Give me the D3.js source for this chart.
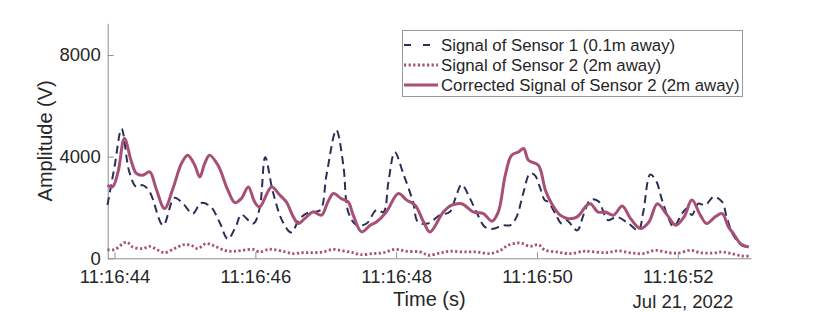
<!DOCTYPE html>
<html>
<head>
<meta charset="utf-8">
<script src="https://cdn.jsdelivr.net/npm/d3@7"></script>
<style>
  html, body { margin: 0; padding: 0; background: #fff; }
  text { font-family: "Liberation Sans", Arial, Helvetica, sans-serif; fill: #262626; }
</style>
</head>
<body>
<svg id="chart" width="830" height="312"></svg>
<script>
// seconds after 11:16:44 (Jul 21, 2022) and amplitude in V
const s1Time = [-0.10, 0.00, 0.10, 0.21, 0.31, 0.40, 0.50, 0.69, 0.85, 0.97, 1.11, 1.23, 1.37, 1.49, 1.61, 1.73, 1.80, 1.97, 2.06, 2.14,
  2.25, 2.39, 2.51, 2.63, 2.77, 2.92, 3.01, 3.15, 3.25, 3.32, 3.44, 3.58, 3.72, 3.82, 3.89, 3.98, 4.10, 4.24, 4.31, 4.45,
  4.62, 4.76, 4.84, 4.93, 5.05, 5.14, 5.26, 5.38, 5.52, 5.62, 5.71, 5.81, 5.90, 5.97, 6.04, 6.11, 6.16, 6.26, 6.35, 6.42,
  6.57, 6.66, 6.76, 6.87, 7.01, 7.13, 7.30, 7.44, 7.51, 7.61, 7.70, 7.77, 7.87, 7.94, 8.06, 8.13, 8.20, 8.29, 8.39, 8.51,
  8.63, 8.70, 8.79, 8.91, 9.01];
const s1Val = [2100, 3600, 5100, 3400, 2810, 2880, 2610, 1300, 2380, 2160, 1760, 2180, 2020, 1430, 760, 1300, 1720, 1370, 1960, 3980,
  2610, 1430, 1020, 1560, 1820, 1890, 3270, 5050, 3660, 1820, 1300, 1370, 1900, 1820, 3000, 4180, 3340, 2220, 1430, 1370,
  1700, 1820, 2350, 2900, 2350, 1820, 1235, 1160, 1300, 1300, 1630, 2610, 3340, 3270, 2810, 2290, 2220, 1760, 1370, 1500,
  1100, 1700, 2300, 2250, 1500, 1630, 1370, 1100, 1820, 3300, 3000, 2350, 1560, 1235, 1760, 1960, 1700, 2150, 2090, 2420,
  2220, 1560, 905, 510, 445];

const s2Time = [-0.10, 0.00, 0.17, 0.26, 0.40, 0.50, 0.62, 0.71, 0.85, 0.99, 1.09, 1.18, 1.30, 1.42, 1.56, 1.68, 1.82, 1.97, 2.06, 2.18,
  2.25, 2.39, 2.53, 2.67, 2.81, 2.96, 3.10, 3.25, 3.39, 3.49, 3.67, 3.82, 3.98, 4.15, 4.34, 4.43, 4.48, 4.62, 4.76, 4.95,
  5.14, 5.33, 5.48, 5.59, 5.76, 5.90, 6.02, 6.11, 6.28, 6.47, 6.66, 6.73, 6.97, 7.16, 7.35, 7.51, 7.68, 7.87, 8.01, 8.18,
  8.32, 8.49, 8.63, 8.77, 8.91, 9.01];
const s2Val = [340, 340, 640, 445, 380, 470, 315, 220, 380, 540, 510, 380, 580, 485, 315, 275, 315, 350, 250, 350,
  350, 275, 185, 220, 220, 250, 350, 290, 220, 145, 185, 220, 350, 275, 250, 145, 120, 205, 275, 250,
  250, 185, 315, 510, 605, 470, 540, 330, 250, 185, 275, 275, 220, 290, 205, 185, 315, 220, 205, 315,
  220, 205, 250, 185, 90, 90];

const corrTime = [-0.10, -0.03, 0.05, 0.14, 0.24, 0.31, 0.40, 0.50, 0.59, 0.71, 0.83, 0.95, 1.04, 1.14, 1.21, 1.28, 1.35, 1.47, 1.61, 1.71,
  1.80, 1.90, 1.99, 2.06, 2.23, 2.35, 2.44, 2.54, 2.61, 2.70, 2.82, 2.94, 3.03, 3.11, 3.22, 3.32, 3.39, 3.51, 3.63, 3.72,
  3.86, 4.03, 4.15, 4.27, 4.39, 4.48, 4.67, 4.79, 4.93, 5.10, 5.24, 5.36, 5.45, 5.55, 5.64, 5.74, 5.81, 5.88, 6.02, 6.12,
  6.21, 6.33, 6.45, 6.57, 6.71, 6.76, 6.87, 6.97, 7.09, 7.21, 7.33, 7.47, 7.59, 7.71, 7.85, 7.97, 8.09, 8.20, 8.32, 8.41,
  8.53, 8.63, 8.72, 8.79, 8.89, 9.01];
const corrVal = [2880, 2810, 3400, 4720, 3800, 3340, 3270, 3400, 2750, 1960, 2750, 3730, 4060, 3660, 3200, 3730, 4060, 3660, 2680, 2190,
  2350, 2810, 2220, 2020, 2810, 2480, 2220, 1630, 1370, 1560, 1820, 1700, 2220, 2550, 2350, 2220, 1700, 1040, 1300, 1430,
  1820, 2550, 2290, 2090, 1430, 1040, 1820, 2090, 2150, 1820, 1760, 1460, 1820, 3270, 4060, 4190, 4320, 3860, 3660, 2680,
  2150, 1700, 1560, 1630, 2090, 2150, 1820, 1820, 1700, 2060, 1560, 1170, 1430, 2150, 1700, 1300, 1630, 2290, 1700, 1370,
  1630, 1760, 1235, 975, 580, 445];

const xTickSec = [0, 2, 4, 6, 8];
const yTicks = [0, 4000, 8000];
const legendLabels = ['Signal of Sensor 1 (0.1m away)', 'Signal of Sensor 2 (2m away)', 'Corrected Signal of Sensor 2 (2m away)'];

const base = new Date(2022, 6, 21, 11, 16, 44);
const toDate = s => new Date(base.getTime() + s * 1000);

const svg = d3.select('#chart');
const plotLeft = 107.7, plotRight = 751, plotTop = 23.3, plotBottom = 258.3;

const x = d3.scaleTime()
  .domain([toDate(-0.097), toDate(9.04)])
  .range([plotLeft, plotRight]);
const y = d3.scaleLinear()
  .domain([0, 9250])
  .range([plotBottom, plotTop]);

const axisColor = '#8f8f8f';

// x axis, ticks pointing inward
const xAxis = svg.append('g')
  .attr('transform', `translate(0,${plotBottom})`)
  .call(d3.axisBottom(x)
    .tickValues(xTickSec.map(toDate))
    .tickFormat(d3.timeFormat('%H:%M:%S'))
    .tickSizeInner(-6).tickSizeOuter(0).tickPadding(11.5));
xAxis.select('.domain').attr('stroke', axisColor).attr('stroke-width', 1);
xAxis.selectAll('.tick line').attr('stroke', axisColor);
xAxis.selectAll('.tick text').attr('font-size', 18.5).attr('fill', '#262626');

const yAxis = svg.append('g')
  .attr('transform', `translate(${plotLeft},0)`)
  .call(d3.axisLeft(y)
    .tickValues(yTicks)
    .tickFormat(d3.format('d'))
    .tickSizeInner(-6).tickSizeOuter(0).tickPadding(7));
yAxis.select('.domain').attr('stroke', axisColor).attr('stroke-width', 1);
yAxis.selectAll('.tick line').attr('stroke', axisColor);
yAxis.selectAll('.tick text').attr('font-size', 18.5).attr('fill', '#262626');

svg.append('text')
  .attr('x', 683).attr('y', 308)
  .attr('text-anchor', 'middle')
  .attr('font-size', 18.5)
  .text('Jul 21, 2022');

svg.append('text')
  .attr('x', (plotLeft + plotRight) / 2).attr('y', 306)
  .attr('text-anchor', 'middle')
  .attr('font-size', 20)
  .text('Time (s)');

svg.append('text')
  .attr('transform', `translate(52,${(plotTop + plotBottom) / 2}) rotate(-90)`)
  .attr('text-anchor', 'middle')
  .attr('font-size', 20)
  .text('Amplitude (V)');

// series
const series = [
  { t: s1Time, v: s1Val, color: '#2d2e58', width: 2, dash: '8,5', legDash: '7,12' },
  { t: s2Time, v: s2Val, color: '#a84f75', width: 2.8, dash: '2.2,2.4', legDash: '2.2,2.4' },
  { t: corrTime, v: corrVal, color: '#a84f75', width: 3, dash: null, legDash: null }
];

const line = d3.line()
  .x(d => x(d[0]))
  .y(d => y(d[1]))
  .curve(d3.curveCatmullRom.alpha(0.5));

const plot = svg.append('g');
series.forEach(s => {
  const pts = s.t.map((t, i) => [toDate(t), s.v[i]]);
  plot.append('path')
    .datum(pts)
    .attr('d', line)
    .attr('fill', 'none')
    .attr('stroke', s.color)
    .attr('stroke-width', s.width)
    .attr('stroke-dasharray', s.dash)
    .attr('stroke-linejoin', 'round');
});

// legend
const leg = svg.append('g');
leg.append('rect')
  .attr('x', 402.5).attr('y', 30.5)
  .attr('width', 340).attr('height', 66)
  .attr('fill', '#fff')
  .attr('stroke', '#9a9a9a')
  .attr('stroke-width', 1);
series.forEach((s, i) => {
  const cy = 45 + i * 20;
  leg.append('line')
    .attr('x1', 404).attr('x2', 438)
    .attr('y1', cy).attr('y2', cy)
    .attr('stroke', s.color)
    .attr('stroke-width', s.width)
    .attr('stroke-dasharray', s.legDash);
  leg.append('text')
    .attr('x', 441).attr('y', cy)
    .attr('dy', '0.36em')
    .attr('font-size', 16.8)
    .text(legendLabels[i]);
});
</script>
</body>
</html>
